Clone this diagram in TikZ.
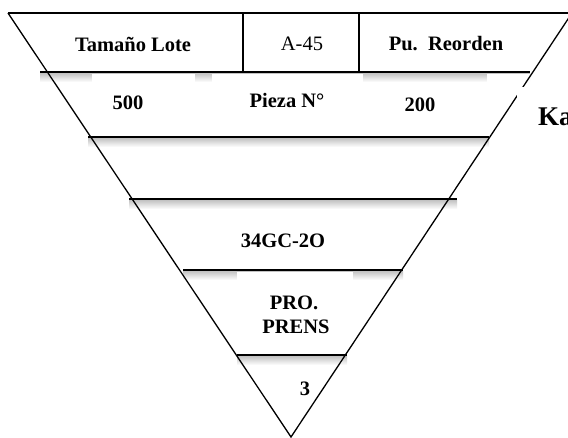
\documentclass[tikz,border=0pt]{standalone}
\usepackage{fontspec}
\setmainfont{Liberation Serif}
\begin{document}
\begin{tikzpicture}[x=1pt,y=-1pt,
  edge/.style={line width=1.3pt, black},
  rule/.style={line width=1.6pt, black},
  shadowband/.style={top color=black!24, bottom color=white, draw=none},
  cover/.style={fill=white, draw=none},
  lbl/.style={font=\fontsize{20.5}{24}\selectfont\bfseries, anchor=base, inner sep=0pt},
  lblreg/.style={font=\fontsize{20.5}{24}\selectfont, anchor=base, inner sep=0pt}]
\fill[white] (0,0) rectangle (568,437);
\useasboundingbox (0,0) rectangle (568,437);

% corner points of the inverted triangle
\coordinate (tl) at (8,13);
\coordinate (tr) at (572,13);
\coordinate (apex) at (291,437);

% soft shadows beneath the horizontal rules
\shade[shadowband] (40,73) rectangle (530,82);
\shade[shadowband] (88,138) rectangle (489,147);
\shade[shadowband] (129,200) rectangle (457,209);
\shade[shadowband] (183,271) rectangle (403,280);
\shade[shadowband] (237,356) rectangle (347,365);

% white text boxes that interrupt some shadows
\fill[cover] (92,73.5) rectangle (195,86);
\fill[cover] (212,73.5) rectangle (363,86);
\fill[cover] (487,73.5) rectangle (530,86);
\fill[cover] (237,271.5) rectangle (353,284);

% outline
\draw[edge] (tl) -- (apex) -- (tr);
\draw[rule] (tl) -- (tr);

% horizontal rules
\draw[rule] (40,72) -- (530,72);
\draw[rule] (88,137) -- (489,137);
\draw[rule] (129,199) -- (457,199);
\draw[rule] (183,270) -- (403,270);
\draw[rule] (237,355) -- (347,355);

% dividers of the header row
\draw[edge] (243,13) -- (243,72);
\draw[edge] (359,13) -- (359,72);

% labels
\node[lbl] (lote) at (133,51) {Tamaño Lote};
\node[lblreg] (code) at (302,50) {A-45};
\node[lbl] (reorden) at (446,50) {Pu.\ \ Reorden};
\node[lbl] (qty) at (128,109) {500};
\node[lbl] (pieza) at (287,107) {Pieza N°};
\node[lbl] (pto) at (420,111) {200};
\node[lbl] (ref) at (283,247) {34GC-2O};
\node[lbl] (pro) at (294,309) {PRO.};
\node[lbl] (prens) at (296,333) {PRENS};
\node[lbl] (three) at (305,395) {3};

% title box on the right, partly outside the page
\fill[cover] (517,87) rectangle (575,145);
\node[font=\fontsize{27}{30}\selectfont\bfseries, anchor=base west, inner sep=0pt] (title) at (538,125) {Ka};
\end{tikzpicture}
\end{document}
